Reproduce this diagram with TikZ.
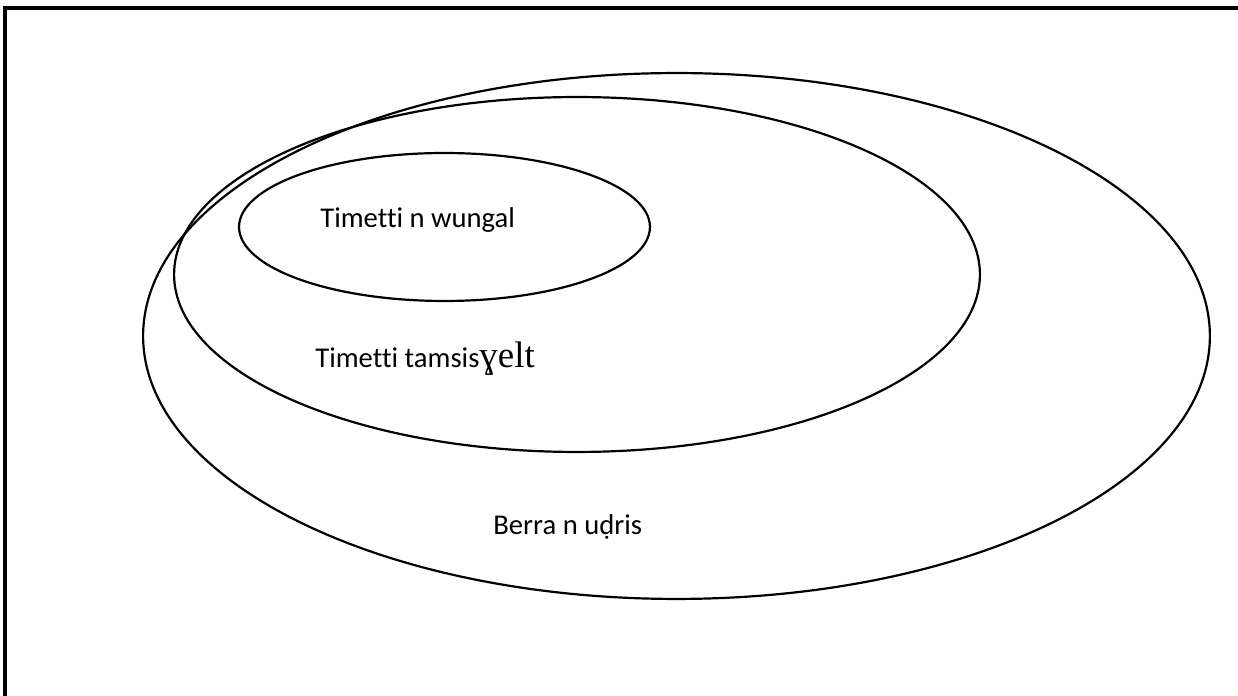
\documentclass[tikz,border=0pt]{standalone}
\usepackage{fontspec}
\setmainfont{Carlito}[Ligatures=NoCommon]
\newfontfamily\serifpart{Liberation Serif}
\usepackage{tikz}
\usetikzlibrary{shapes.geometric, positioning}

\begin{document}
\begin{tikzpicture}[x=0.02cm, y=0.02cm,
    % Styles
    ring/.style={
        ellipse,
        draw=black,
        line width=1.25pt,
        inner sep=0pt
    },
    setlabel/.style={
        anchor=base west,
        inner sep=0pt,
        font=\fontsize{16.3}{19}\selectfont
    },
    frame/.style={
        draw=black,
        line width=1.8pt
    }
]

% Page size
\fill[white] (0,0) rectangle (1238,696);
\useasboundingbox (0,0) rectangle (1238,696);

% Outer frame (only left and top edges show)
\coordinate (fbot) at (5,0);
\coordinate (fcorner) at (5,688);
\coordinate (fright) at (1238,688);
\draw[frame] (fbot) -- (fcorner) -- (fright);

% Nested sets
\node[ring, minimum width=21.34cm, minimum height=10.52cm] (udris) at (676.5,360) {};
\node[ring, minimum width=16.12cm, minimum height=7.1cm] (tamsis) at (577,421.5) {};
\node[ring, minimum width=8.22cm, minimum height=2.96cm] (wungal) at (444.5,469) {};

% Labels
\node[setlabel] (wungaltxt) at (320,468) {Timetti n wungal};
\node[setlabel] (tamsistxt) at (315,328) {Timetti tamsis{\serifpart\fontsize{21}{24}\selectfont ɣelt}};
\node[setlabel] (udristxt) at (493,161) {Berra n uḍris};

\end{tikzpicture}
\end{document}
